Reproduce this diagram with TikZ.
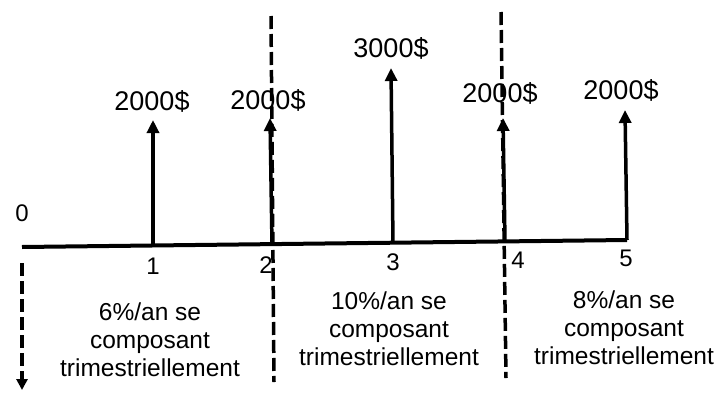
\documentclass[tikz,border=0pt]{standalone}
\usepackage{fontspec}
\setmainfont{Liberation Sans}
\usetikzlibrary{arrows.meta}
\begin{document}
\begin{tikzpicture}[x=1pt,y=-1pt,
  axis/.style={line width=4pt},
  flow/.style={line width=3.5pt,-{Triangle[length=13pt,width=12pt]}},
  sep/.style={line width=3.5pt,dash pattern=on 13pt off 5pt},
  amt/.style={font=\fontsize{27}{30}\selectfont,inner sep=0pt},
  num/.style={font=\fontsize{24}{28}\selectfont,inner sep=0pt},
  rate/.style={font=\fontsize{24.5}{28}\selectfont,align=center,inner sep=0pt}]
\useasboundingbox (0,0) rectangle (720,402);
% axis points
\coordinate (p0) at (22,247);
\coordinate (p1) at (153,246);
\coordinate (p2) at (272,245);
\coordinate (p3) at (393,243);
\coordinate (p4) at (505,241);
\coordinate (p5) at (627,240);
\draw[axis] (p0) -- (p5);
% arrow tops
\coordinate (t1) at (153,120);
\coordinate (t2) at (270,118);
\coordinate (t3) at (391,68);
\coordinate (t4) at (503,118);
\coordinate (t5) at (625,110);
\draw[flow] (p1) -- (t1);
\draw[flow] (p2) -- (t2);
\draw[flow] (p3) -- (t3);
\draw[flow] (p4) -- (t4);
\draw[flow] (p5) -- (t5);
% separators
\coordinate (s2a) at (271,16);
\coordinate (s2b) at (274,382);
\coordinate (s4a) at (501,12);
\coordinate (s4b) at (506,378);
\draw[sep] (s2a) -- (s2b);
\draw[sep] (s4a) -- (s4b);
\coordinate (s0a) at (22,263);
\coordinate (s0b) at (22,390);
\draw[sep,-{Triangle[length=11pt,width=11pt]}] (s0a) -- (s0b);
% amounts
\node[amt] (a1) at (152,101) {2000\$};
\node[amt] (a2) at (268,100) {2000\$};
\node[amt] (a3) at (391,48) {3000\$};
\node[amt] (a4) at (500,93) {2000\$};
\node[amt] (a5) at (621,90) {2000\$};
% numbers
\node[num] (n0) at (22,213) {0};
\node[num] (n1) at (153,266) {1};
\node[num] (n2) at (266,265) {2};
\node[num] (n3) at (393,262) {3};
\node[num] (n4) at (518,260) {4};
\node[num] (n5) at (626,258) {5};
% rates
\node[rate] (r1) at (150,340) {6\%/an se\\composant\\trimestriellement};
\node[rate] (r2) at (389,329) {10\%/an se\\composant\\trimestriellement};
\node[rate] (r3) at (624,328) {8\%/an se\\composant\\trimestriellement};
\end{tikzpicture}
\end{document}
